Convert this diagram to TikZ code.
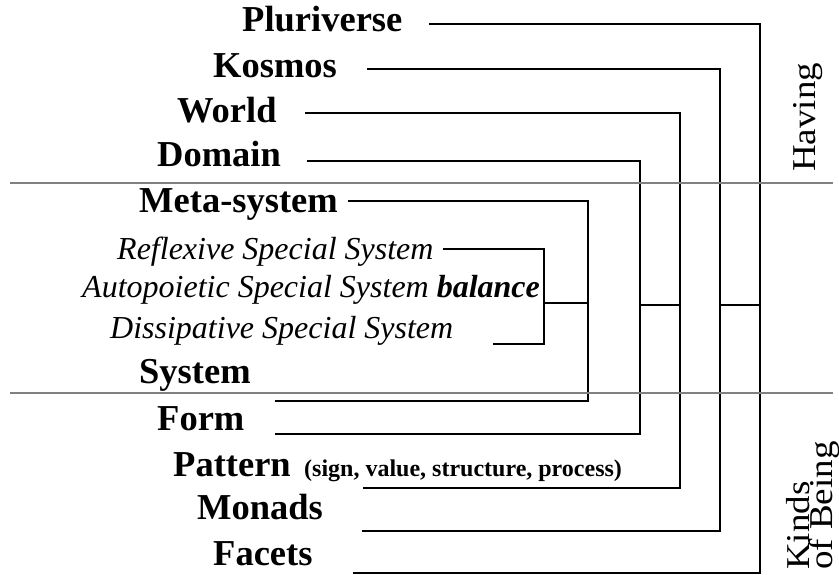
\documentclass[tikz,border=0pt]{standalone}
\usepackage{fontspec}
\setmainfont{Liberation Serif}

\begin{document}
\begin{tikzpicture}[x=1pt, y=-1pt,
        main/.style = {anchor=base west, inner sep=0pt, font=\fontsize{36.5}{40}\selectfont\bfseries},
        sub/.style = {anchor=base west, inner sep=0pt, font=\fontsize{32}{36}\selectfont\itshape},
        note/.style = {anchor=base west, inner sep=0pt, font=\fontsize{24}{28}\selectfont\bfseries},
        side/.style = {anchor=base west, inner sep=0pt, rotate=90, font=\fontsize{37}{40}\selectfont},
        link/.style = {draw, line width=1.3pt},
        sep/.style = {draw, gray, line width=1.7pt} ]
        \useasboundingbox (0,0) rectangle (839,575);

        % labels
        \node at (242, 32) [main] (pluriverse) {Pluriverse};
        \node at (213, 78) [main] (kosmos) {Kosmos};
        \node at (177, 123) [main] (world) {World};
        \node at (157, 167) [main] (domain) {Domain};
        \node at (139, 213) [main] (meta) {Meta-system};
        \node at (117, 260) [sub] (reflexive) {Reflexive Special System};
        \node at (82, 298) [sub] (autopoietic) {Autopoietic Special System \textbf{balance}};
        \node at (110, 338) [sub] (dissipative) {Dissipative Special System};
        \node at (139, 383) [main] (system) {System};
        \node at (157, 430) [main] (form) {Form};
        \node at (173, 476) [main] (pattern) {Pattern};
        \node at (304, 476) [note] (patternnote) {(sign, value, structure, process)};
        \node at (197, 519) [main] (monads) {Monads};
        \node at (213, 565) [main] (facets) {Facets};

        \node at (815, 172) [side] (having) {\scalebox{1}[0.9]{Having}};
        \node at (809, 570) [side] (kinds) {\scalebox{1}[0.9]{Kinds}};
        \node at (832, 570) [side] (being) {\scalebox{1}[0.9]{of Being}};

        % line ends
        \coordinate (pl) at (429, 24);
        \coordinate (ko) at (367, 69);
        \coordinate (wo) at (305, 113);
        \coordinate (do) at (307, 161);
        \coordinate (me) at (348, 201);
        \coordinate (re) at (443, 249);
        \coordinate (di) at (493, 344);
        \coordinate (sy) at (275, 401);
        \coordinate (fo) at (275, 434);
        \coordinate (pa) at (363, 488);
        \coordinate (mo) at (362, 531);
        \coordinate (fa) at (353, 573);

        % joins
        \coordinate (j1) at (544, 303);
        \coordinate (j2) at (588, 303);
        \coordinate (j3) at (640, 305);
        \coordinate (j4) at (680, 305);
        \coordinate (j5) at (720, 305);
        \coordinate (j6) at (760, 305);

        \path[link]
        (re) -| (j1) |- (di)
        (j1) -- (j2)
        (me) -| (j2) |- (sy)
        (do) -| (j3) |- (fo)
        (j3) -- (j4)
        (wo) -| (j4) |- (pa)
        (ko) -| (j5) |- (mo)
        (j5) -- (j6)
        (pl) -| (j6) |- (fa);

        \coordinate (s1) at (10, 183);
        \coordinate (s2) at (833, 183);
        \coordinate (s3) at (10, 393);
        \coordinate (s4) at (833, 393);
        \path[sep] (s1) -- (s2) (s3) -- (s4);
    \end{tikzpicture}
\end{document}
